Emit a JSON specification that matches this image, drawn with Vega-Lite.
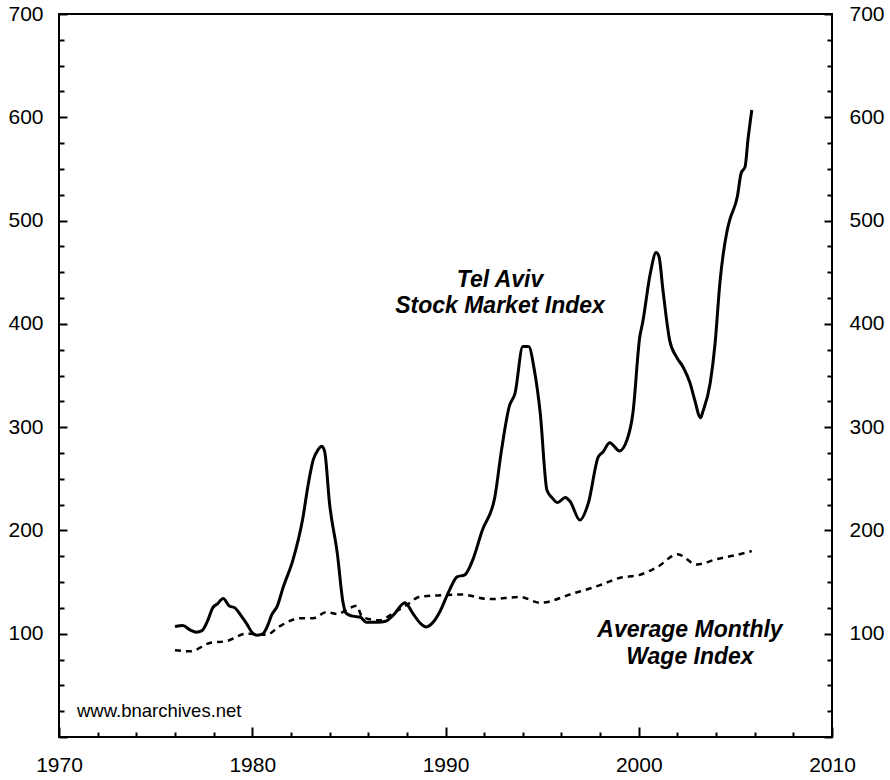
{
  "$schema": "https://vega.github.io/schema/vega-lite/v6.json",
  "width": 773,
  "height": 723,
  "autosize": "none",
  "padding": {"left": 59, "top": 14, "right": 58, "bottom": 43},
  "background": "white",
  "config": {
    "view": {"stroke": "black", "strokeWidth": 2},
    "font": "Liberation Sans",
    "axis": {"domain": false, "grid": false, "labelFont": "Liberation Sans", "labelFontSize": 21, "labelColor": "black", "tickColor": "black", "title": null}
  },
  "datasets": {
    "stock": [
      {"year": 1976.0, "value": 107}, {"year": 1976.4, "value": 108}, {"year": 1976.8, "value": 103.5},
      {"year": 1977.1, "value": 101.5}, {"year": 1977.4, "value": 103}, {"year": 1977.7, "value": 113},
      {"year": 1977.95, "value": 125}, {"year": 1978.2, "value": 129}, {"year": 1978.5, "value": 134},
      {"year": 1978.8, "value": 127}, {"year": 1979.1, "value": 125}, {"year": 1979.4, "value": 118},
      {"year": 1979.7, "value": 110}, {"year": 1980.0, "value": 101}, {"year": 1980.25, "value": 98.5},
      {"year": 1980.55, "value": 100}, {"year": 1980.8, "value": 108}, {"year": 1981.0, "value": 118},
      {"year": 1981.3, "value": 127}, {"year": 1981.6, "value": 145}, {"year": 1982.1, "value": 171},
      {"year": 1982.6, "value": 210}, {"year": 1982.9, "value": 245}, {"year": 1983.15, "value": 268},
      {"year": 1983.4, "value": 278}, {"year": 1983.6, "value": 281.5}, {"year": 1983.75, "value": 276},
      {"year": 1984.0, "value": 226}, {"year": 1984.4, "value": 178}, {"year": 1984.7, "value": 130},
      {"year": 1984.85, "value": 120}, {"year": 1985.2, "value": 117}, {"year": 1985.6, "value": 116},
      {"year": 1985.9, "value": 111}, {"year": 1986.5, "value": 111}, {"year": 1986.9, "value": 112},
      {"year": 1987.3, "value": 118}, {"year": 1987.9, "value": 130}, {"year": 1988.3, "value": 120},
      {"year": 1988.7, "value": 110}, {"year": 1989.0, "value": 106.5}, {"year": 1989.4, "value": 112},
      {"year": 1989.7, "value": 121}, {"year": 1990.2, "value": 142}, {"year": 1990.6, "value": 155},
      {"year": 1991.0, "value": 157}, {"year": 1991.4, "value": 171}, {"year": 1991.9, "value": 200},
      {"year": 1992.55, "value": 232}, {"year": 1992.9, "value": 278}, {"year": 1993.3, "value": 320},
      {"year": 1993.6, "value": 333}, {"year": 1994.0, "value": 378}, {"year": 1994.3, "value": 378},
      {"year": 1994.6, "value": 355}, {"year": 1994.9, "value": 314}, {"year": 1995.25, "value": 239},
      {"year": 1995.5, "value": 232}, {"year": 1995.8, "value": 227}, {"year": 1996.2, "value": 232},
      {"year": 1996.45, "value": 228}, {"year": 1996.95, "value": 210}, {"year": 1997.4, "value": 227},
      {"year": 1997.9, "value": 271}, {"year": 1998.15, "value": 276}, {"year": 1998.5, "value": 285},
      {"year": 1999.0, "value": 277}, {"year": 1999.4, "value": 288}, {"year": 1999.7, "value": 314},
      {"year": 2000.05, "value": 387}, {"year": 2000.2, "value": 401}, {"year": 2000.6, "value": 449},
      {"year": 2000.9, "value": 469}, {"year": 2001.05, "value": 465}, {"year": 2001.25, "value": 433},
      {"year": 2001.6, "value": 384}, {"year": 2001.95, "value": 368}, {"year": 2002.3, "value": 358},
      {"year": 2002.65, "value": 343}, {"year": 2002.9, "value": 326}, {"year": 2003.2, "value": 309},
      {"year": 2003.3, "value": 314}, {"year": 2003.7, "value": 343}, {"year": 2003.95, "value": 381},
      {"year": 2004.2, "value": 440}, {"year": 2004.55, "value": 488}, {"year": 2004.7, "value": 500},
      {"year": 2005.1, "value": 523}, {"year": 2005.3, "value": 546}, {"year": 2005.5, "value": 552},
      {"year": 2005.65, "value": 578}, {"year": 2005.85, "value": 607}
    ],
    "wage": [
      {"year": 1976.0, "value": 84}, {"year": 1976.8, "value": 83}, {"year": 1977.8, "value": 91},
      {"year": 1978.7, "value": 93}, {"year": 1979.7, "value": 100}, {"year": 1980.75, "value": 99},
      {"year": 1981.4, "value": 107}, {"year": 1982.5, "value": 115}, {"year": 1983.15, "value": 115},
      {"year": 1983.85, "value": 121}, {"year": 1984.4, "value": 119}, {"year": 1985.05, "value": 125},
      {"year": 1985.4, "value": 127}, {"year": 1985.7, "value": 116}, {"year": 1986.6, "value": 113},
      {"year": 1987.3, "value": 120}, {"year": 1988.0, "value": 128}, {"year": 1988.7, "value": 136},
      {"year": 1989.6, "value": 137}, {"year": 1990.75, "value": 138}, {"year": 1992.3, "value": 133.5},
      {"year": 1993.85, "value": 135.5}, {"year": 1994.9, "value": 130}, {"year": 1996.6, "value": 139},
      {"year": 1998.0, "value": 147}, {"year": 1999.0, "value": 154}, {"year": 2000.05, "value": 157},
      {"year": 2001.0, "value": 165}, {"year": 2002.0, "value": 177}, {"year": 2003.0, "value": 167},
      {"year": 2004.0, "value": 172}, {"year": 2005.0, "value": 176}, {"year": 2005.85, "value": 180}
    ],
    "notes": [
      {"year": 1992.82, "value": 442, "label": "Tel Aviv|Stock Market Index", "kind": "stock"},
      {"year": 2002.65, "value": 104, "label": "Average Monthly|Wage Index", "kind": "wage"},
      {"year": 1970.93, "value": 25, "label": "www.bnarchives.net", "kind": "src"}
    ]
  },
  "resolve": {"axis": {"x": "independent", "y": "independent"}},
  "layer": [
    {
      "data": {"name": "stock"},
      "mark": {"type": "line", "color": "black", "strokeWidth": 3, "interpolate": "monotone"},
      "encoding": {
        "x": {"field": "year", "type": "quantitative", "scale": {"domain": [1970, 2010], "nice": false, "zero": false},
              "axis": {"orient": "bottom", "values": [1970, 1980, 1990, 2000, 2010], "ticks": false, "labelPadding": 17, "format": "d", "labelFlush": false}},
        "y": {"field": "value", "type": "quantitative", "scale": {"domain": [0, 700], "nice": false},
              "axis": {"orient": "left", "values": [100, 200, 300, 400, 500, 600, 700], "ticks": false, "labelPadding": 16, "labelFlush": false}}
      }
    },
    {
      "data": {"name": "wage"},
      "mark": {"type": "line", "color": "black", "strokeWidth": 2.5, "strokeDash": [6, 5], "interpolate": "monotone"},
      "encoding": {
        "x": {"field": "year", "type": "quantitative", "scale": {"domain": [1970, 2010], "nice": false, "zero": false},
              "axis": {"orient": "bottom", "values": [1970, 1980, 1990, 2000, 2010], "tickSize": 10, "offset": -10, "tickWidth": 2, "labels": false}},
        "y": {"field": "value", "type": "quantitative", "scale": {"domain": [0, 700], "nice": false},
              "axis": {"orient": "right", "values": [100, 200, 300, 400, 500, 600, 700], "ticks": false, "labelPadding": 17, "labelFlush": false}}
      }
    },
    {
      "data": {"name": "notes"},
      "transform": [{"filter": "datum.kind === 'stock'"}],
      "mark": {"type": "text", "font": "Liberation Sans", "fontSize": 23, "fontWeight": "bold", "fontStyle": "italic", "lineBreak": "|", "lineHeight": 26, "align": "center", "baseline": "middle"},
      "encoding": {
        "text": {"field": "label"},
        "x": {"field": "year", "type": "quantitative", "scale": {"domain": [1970, 2010], "nice": false, "zero": false},
              "axis": {"orient": "bottom", "values": [1972, 1974, 1976, 1978, 1982, 1984, 1986, 1988, 1992, 1994, 1996, 1998, 2002, 2004, 2006, 2008], "tickSize": 5, "offset": -5, "tickWidth": 2, "labels": false}},
        "y": {"field": "value", "type": "quantitative", "scale": {"domain": [0, 700], "nice": false},
              "axis": {"orient": "left", "values": [0, 100, 200, 300, 400, 500, 600, 700], "tickSize": 8, "offset": -8, "tickWidth": 2, "labels": false}}
      }
    },
    {
      "data": {"name": "notes"},
      "transform": [{"filter": "datum.kind === 'wage'"}],
      "mark": {"type": "text", "font": "Liberation Sans", "fontSize": 23, "fontWeight": "bold", "fontStyle": "italic", "lineBreak": "|", "lineHeight": 27, "align": "center", "baseline": "middle"},
      "encoding": {
        "text": {"field": "label"},
        "x": {"field": "year", "type": "quantitative", "scale": {"domain": [1970, 2010], "nice": false, "zero": false}, "axis": null},
        "y": {"field": "value", "type": "quantitative", "scale": {"domain": [0, 700], "nice": false},
              "axis": {"orient": "left", "values": [25, 50, 75, 125, 150, 175, 225, 250, 275, 325, 350, 375, 425, 450, 475, 525, 550, 575, 625, 650, 675], "tickSize": 5, "offset": -5, "tickWidth": 2, "labels": false}}
      }
    },
    {
      "data": {"name": "notes"},
      "transform": [{"filter": "datum.kind === 'src'"}],
      "mark": {"type": "text", "font": "Liberation Sans", "fontSize": 18.5, "align": "left", "baseline": "middle"},
      "encoding": {
        "text": {"field": "label"},
        "x": {"field": "year", "type": "quantitative", "scale": {"domain": [1970, 2010], "nice": false, "zero": false}, "axis": null},
        "y": {"field": "value", "type": "quantitative", "scale": {"domain": [0, 700], "nice": false},
              "axis": {"orient": "right", "values": [0, 100, 200, 300, 400, 500, 600, 700], "tickSize": 8, "offset": -8, "tickWidth": 2, "labels": false}}
      }
    },
    {
      "data": {"name": "notes"},
      "transform": [{"filter": "datum.kind === 'none'"}],
      "mark": {"type": "point", "opacity": 0},
      "encoding": {
        "x": {"field": "year", "type": "quantitative", "scale": {"domain": [1970, 2010], "nice": false, "zero": false}, "axis": null},
        "y": {"field": "value", "type": "quantitative", "scale": {"domain": [0, 700], "nice": false},
              "axis": {"orient": "right", "values": [25, 50, 75, 125, 150, 175, 225, 250, 275, 325, 350, 375, 425, 450, 475, 525, 550, 575, 625, 650, 675], "tickSize": 5, "offset": -5, "tickWidth": 2, "labels": false}}
      }
    }
  ]
}
